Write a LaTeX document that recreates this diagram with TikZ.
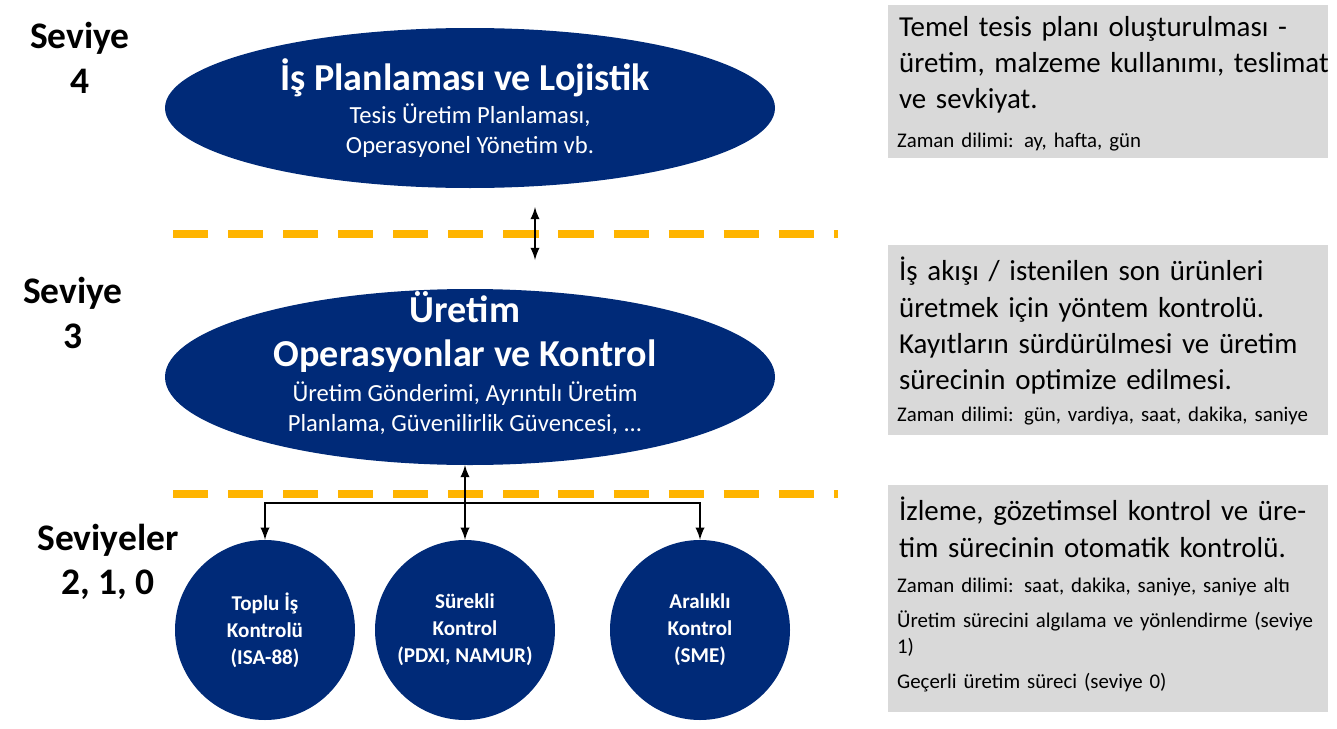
\documentclass[tikz,border=0pt]{standalone}
\usepackage{fontspec}
\setmainfont{Carlito}
\usetikzlibrary{positioning}
\definecolor{navy}{RGB}{0,42,120}
\definecolor{amber}{RGB}{255,180,0}
\definecolor{boxgray}{RGB}{217,217,217}
\tikzset{
  level/.style={text=white, align=center, inner sep=0pt},
  unit/.style={circle, fill=navy, text=white, align=center, minimum size=180*0.03cm, inner sep=0pt,
    font=\fontsize{18}{23}\selectfont\bfseries},
  tag/.style={align=center, font=\fontsize{32}{38}\selectfont\bfseries},
  sep/.style={amber, line width=6pt, dash pattern=on 30pt off 17pt},
  note/.style={fill=boxgray, anchor=north west, minimum width=440*0.03cm, inner sep=0pt},
  big/.style={align=left, anchor=north west, text width=432*0.03cm, font=\fontsize{24.7}{31}\selectfont},
  small/.style={align=left, anchor=north west, text width=432*0.03cm, font=\fontsize{17.8}{22}\selectfont},
  link/.style={line width=2.5pt, -latex}
}
\begin{document}
\begin{tikzpicture}[x=0.03cm, y=-0.03cm]
\useasboundingbox (0,0) rectangle (1337,729);
% Seviyeler
\node[tag] (l4) at (80,58) {Seviye\\4};
\node[tag] (l3) at (73,313) {Seviye\\3};
\node[tag] (l2) at (108,562) {Seviyeler\\2, 1, 0};

% Elipsler
\fill[navy] (470,108) ellipse (305 and 80);
\node[level, font=\fontsize{32.5}{38}\selectfont\bfseries] (plan) at (465,78) {İş Planlaması ve Lojistik};
\node[level, font=\fontsize{21}{25.5}\selectfont] (plansub) at (470,131) {Tesis Üretim Planlaması,\\Operasyonel Yönetim vb.};
\fill[navy] (470,377) ellipse (305 and 88);
\node[level, font=\fontsize{32.5}{38}\selectfont\bfseries] (ops) at (465,332) {Üretim\\Operasyonlar ve Kontrol};
\node[level, font=\fontsize{21}{25.5}\selectfont] (opssub) at (465,408) {Üretim Gönderimi, Ayrıntılı Üretim\\Planlama, Güvenilirlik Güvencesi, ...};
\coordinate (topb) at (535,207);
\coordinate (midb) at (465,465);

% Daireler
\node[unit] (batch) at (265,630) {Toplu İş\\Kontrolü\\(ISA-88)};
\node[unit] (cont) at (465,630) {Sürekli\\Kontrol\\(PDXI, NAMUR)};
\node[unit] (disc) at (700,630) {Aralıklı\\Kontrol\\(SME)};

% Ayırıcılar
\draw[sep] (173,234) -- (838,234);
\draw[sep] (173,494) -- (838,494);

% Bağlantılar
\coordinate (hub) at (465,503);
\draw[link, latex-latex] (topb) -- (535,260);
\draw[link, latex-latex] (midb) -- (cont.north);
\draw[link] (hub) -| (batch.north);
\draw[link] (hub) -| (disc.north);

% Notlar
\node[note, minimum height=153*0.03cm] (n1) at (888,5) {};
\node[big] (t1) at (895,12) {\raggedright Temel tesis planı oluşturulması - üretim, malzeme kullanımı, teslimat ve sevkiyat.};
\node[small] (s1) at (893,129) {Zaman dilimi: ay, hafta, gün};
\node[note, minimum height=190*0.03cm] (n2) at (888,245) {};
\node[big] (t2) at (895,253) {\raggedright İş akışı / istenilen son ürünleri üretmek için yöntem kontrolü. Kayıtların sürdürülmesi ve üretim sürecinin optimize edilmesi.};
\node[small] (s2) at (893,403) {Zaman dilimi: gün, vardiya, saat, dakika, saniye};
\node[note, minimum height=227*0.03cm] (n3) at (888,485) {};
\node[big] (t3) at (895,493) {\raggedright İzleme, gözetimsel kontrol ve üretim sürecinin otomatik kontrolü.};
\node[small] (s3) at (893,574) {\raggedright Zaman dilimi: saat, dakika, saniye, saniye altı\\[8pt]Üretim sürecini algılama ve yönlendirme (seviye 1)\\[8pt]Geçerli üretim süreci (seviye 0)};
\end{tikzpicture}
\end{document}
